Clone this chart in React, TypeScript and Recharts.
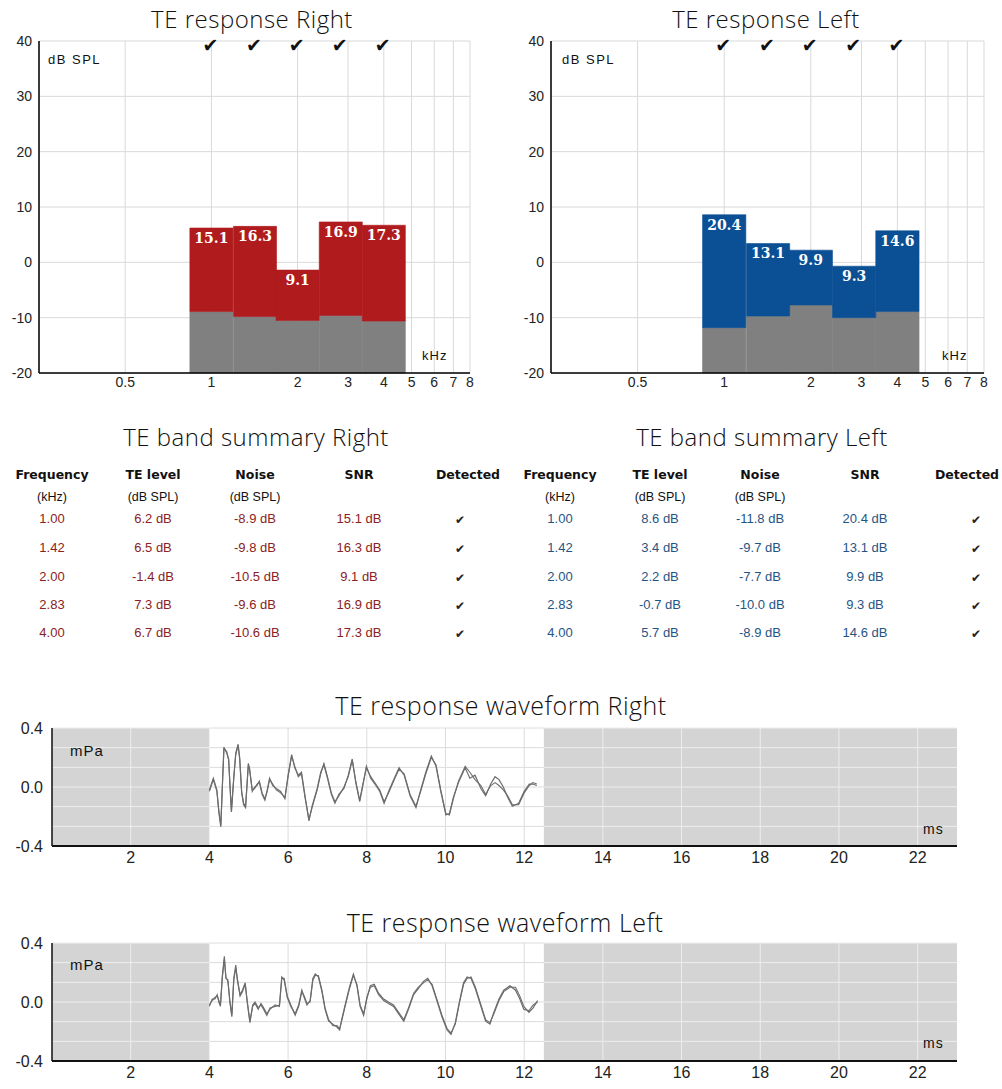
import {
  ComposedChart,
  LineChart,
  Line,
  Scatter,
  XAxis,
  YAxis,
  CartesianGrid,
  ReferenceArea,
  ReferenceLine,
} from "recharts";

// half-octave bands
const BAND_FREQS = [1.0, 1.42, 2.0, 2.83, 4.0];
const BAND_LABELS = ["1.00", "1.42", "2.00", "2.83", "4.00"];

const RIGHT_TE = [6.2, 6.5, -1.4, 7.3, 6.7];
const RIGHT_NOISE = [-8.9, -9.8, -10.5, -9.6, -10.6];
const RIGHT_SNR = [15.1, 16.3, 9.1, 16.9, 17.3];
const RIGHT_DETECTED = [true, true, true, true, true];

const LEFT_TE = [8.6, 3.4, 2.2, -0.7, 5.7];
const LEFT_NOISE = [-11.8, -9.7, -7.7, -10.0, -8.9];
const LEFT_SNR = [20.4, 13.1, 9.9, 9.3, 14.6];
const LEFT_DETECTED = [true, true, true, true, true];

const FREQ_TICKS = [0.5, 1, 2, 3, 4, 5, 6, 7, 8];
const DB_TICKS = [-20, -10, 0, 10, 20, 30, 40];

const MS_TICKS = [2, 4, 6, 8, 10, 12, 14, 16, 18, 20, 22];
const MPA_TICKS = [-0.4, 0, 0.4];
const MPA_GRID = [0.4, 0.267, 0.133, 0, -0.133, -0.267];
const WAVE_WINDOW = [4, 12.5];

const WAVE_RIGHT_T = [
  4.0, 4.1, 4.19, 4.24, 4.29, 4.34, 4.37, 4.44, 4.49, 4.52,
  4.56, 4.62, 4.67, 4.73, 4.77, 4.82, 4.87, 4.92, 4.99, 5.02,
  5.09, 5.15, 5.21, 5.27, 5.34, 5.41, 5.47, 5.53, 5.61, 5.7,
  5.81, 5.92, 6.0, 6.09, 6.17, 6.26, 6.34, 6.43, 6.53, 6.61,
  6.74, 6.83, 6.91, 7.0, 7.1, 7.19, 7.29, 7.42, 7.53, 7.63,
  7.72, 7.82, 7.9, 7.99, 8.1, 8.23, 8.33, 8.44, 8.57, 8.7,
  8.82, 8.95, 9.1, 9.25, 9.37, 9.5, 9.64, 9.76, 9.88, 10.01,
  10.1, 10.2, 10.33, 10.5, 10.62, 10.75, 10.9, 11.02, 11.15, 11.26,
  11.36, 11.47, 11.58, 11.7, 11.86, 12.0, 12.13, 12.22, 12.32,
];
const WAVE_RIGHT_A = [
  -0.02, 0.06, -0.02, -0.17, -0.27, 0.08, 0.27, 0.23, 0.19, 0.02,
  -0.17, 0.06, 0.23, 0.29, 0.19, -0.03, -0.12, -0.14, 0.16, 0.12,
  -0.02, -0.01, 0.02, 0.03, -0.05, -0.09, -0.02, 0.06, 0.01, -0.01,
  -0.03, -0.08, 0.08, 0.22, 0.13, 0.08, 0.1, -0.06, -0.23, -0.13,
  -0.01, 0.1, 0.15, 0.06, -0.05, -0.11, -0.05, -0.01, 0.08, 0.19,
  0.03, -0.1, 0.01, 0.14, 0.06, 0.01, -0.03, -0.11, -0.02, 0.06,
  0.13, 0.08, -0.06, -0.14, -0.02, 0.1, 0.21, 0.14, -0.03, -0.19,
  -0.18, -0.07, 0.03, 0.13, 0.06, 0.08, -0.01, -0.06, 0.02, 0.07,
  0.05, 0.0, -0.07, -0.13, -0.11, -0.03, 0.02, 0.02, 0.01,
];
const WAVE_RIGHT_B = [
  -0.03, 0.05, -0.03, -0.16, -0.26, 0.07, 0.26, 0.24, 0.18, 0.03,
  -0.16, 0.07, 0.22, 0.28, 0.2, -0.04, -0.11, -0.13, 0.15, 0.13,
  -0.03, 0.0, 0.01, 0.04, -0.04, -0.08, -0.03, 0.05, 0.02, -0.02,
  -0.04, -0.07, 0.07, 0.21, 0.14, 0.07, 0.09, -0.07, -0.22, -0.14,
  -0.02, 0.09, 0.16, 0.07, -0.04, -0.1, -0.06, 0.0, 0.07, 0.18,
  0.04, -0.09, 0.02, 0.13, 0.07, 0.02, -0.02, -0.1, -0.03, 0.05,
  0.12, 0.09, -0.05, -0.13, -0.03, 0.09, 0.2, 0.15, -0.02, -0.18,
  -0.19, -0.08, 0.04, 0.14, 0.1, 0.05, 0.01, -0.05, 0.01, 0.03,
  0.01, -0.02, -0.06, -0.12, -0.12, -0.04, 0.01, 0.03, 0.02,
];

const WAVE_LEFT_T = [
  4.0, 4.07, 4.14, 4.2, 4.24, 4.28, 4.33, 4.38, 4.42, 4.47,
  4.52, 4.57, 4.62, 4.67, 4.71, 4.78, 4.84, 4.91, 4.96, 5.03,
  5.1, 5.16, 5.24, 5.31, 5.38, 5.46, 5.54, 5.67, 5.78, 5.84,
  5.9, 5.98, 6.07, 6.18, 6.27, 6.35, 6.41, 6.48, 6.56, 6.63,
  6.69, 6.77, 6.86, 6.94, 7.03, 7.14, 7.24, 7.31, 7.37, 7.45,
  7.56, 7.66, 7.75, 7.83, 7.92, 8.0, 8.09, 8.19, 8.3, 8.43,
  8.55, 8.68, 8.81, 8.94, 9.06, 9.19, 9.31, 9.44, 9.55, 9.66,
  9.78, 9.91, 10.04, 10.14, 10.25, 10.36, 10.46, 10.55, 10.65, 10.76,
  10.89, 11.02, 11.13, 11.23, 11.36, 11.48, 11.64, 11.78, 11.89, 11.99,
  12.12, 12.23, 12.34,
];
const WAVE_LEFT_A = [
  -0.02, 0.01, 0.03, 0.04, 0.01, -0.02, 0.18, 0.31, 0.16, 0.15,
  0.0, -0.1, 0.16, 0.25, 0.15, 0.05, 0.08, 0.13, 0.0, -0.14,
  -0.02, 0.0, -0.04, -0.02, -0.05, -0.09, -0.04, -0.03, -0.02, 0.17,
  0.15, 0.03, -0.03, -0.08, -0.02, 0.08, 0.03, -0.02, 0.01, 0.16,
  0.19, 0.17, 0.07, -0.05, -0.13, -0.15, -0.17, -0.19, -0.11, -0.02,
  0.1, 0.19, 0.11, -0.03, -0.09, 0.03, 0.1, 0.11, 0.05, 0.01,
  -0.01, -0.03, -0.08, -0.13, -0.05, 0.05, 0.09, 0.14, 0.16, 0.11,
  0.01, -0.1, -0.19, -0.22, -0.14, 0.01, 0.13, 0.17, 0.16, 0.09,
  -0.02, -0.13, -0.15, -0.07, 0.02, 0.08, 0.11, 0.08, 0.02, -0.05,
  -0.06, -0.02, 0.0,
];
const WAVE_LEFT_B = [
  -0.03, 0.02, 0.02, 0.05, 0.0, -0.03, 0.17, 0.29, 0.17, 0.14,
  0.01, -0.09, 0.15, 0.23, 0.16, 0.04, 0.07, 0.12, 0.01, -0.13,
  -0.03, -0.01, -0.05, -0.01, -0.04, -0.08, -0.05, -0.02, -0.03, 0.16,
  0.16, 0.04, -0.02, -0.09, -0.03, 0.07, 0.04, -0.01, 0.0, 0.15,
  0.18, 0.18, 0.08, -0.04, -0.12, -0.16, -0.16, -0.18, -0.12, -0.03,
  0.09, 0.18, 0.12, -0.02, -0.08, 0.02, 0.11, 0.12, 0.06, 0.02,
  0.0, -0.02, -0.07, -0.12, -0.04, 0.06, 0.1, 0.13, 0.15, 0.12,
  0.02, -0.09, -0.18, -0.21, -0.15, 0.0, 0.12, 0.16, 0.17, 0.1,
  -0.01, -0.12, -0.14, -0.08, 0.01, 0.07, 0.1, 0.1, 0.04, -0.03,
  -0.07, -0.04, 0.01,
];

const RED = "#b01b1e";
const BLUE = "#0b4f94";
const NOISE_GREY = "#808080";
const MASK_GREY = "#d4d4d4";
const TRACE = "#6c6c6c";
const HALF_BAND = Math.pow(2, 0.25);

const TICK_FONT = "'Liberation Sans', Arial, sans-serif";
const TITLE_FONT = "'Open Sans', 'DejaVu Sans', sans-serif";
const TABLE_FONT = "'DejaVu Sans', Tahoma, sans-serif";

function Txt({ x, y, size = 13, weight = 400, color = "#111", anchor = "middle", family = TICK_FONT, spacing = 0, children }) {
  const lh = Math.round(size * 1.3);
  const style: any = {
    position: "absolute",
    top: y - lh / 2,
    lineHeight: `${lh}px`,
    fontSize: size,
    fontWeight: weight,
    color,
    fontFamily: family,
    letterSpacing: spacing,
    whiteSpace: "nowrap",
  };
  if (anchor === "middle") {
    style.left = x - 200;
    style.width = 400;
    style.textAlign = "center";
  } else {
    style.left = x;
  }
  return <div style={style}>{children}</div>;
}

function CheckMark(props: any) {
  const { cx, cy } = props;
  return (
    <text x={cx - 1} y={cy + 4} textAnchor="middle" dominantBaseline="central" fontSize={19} fill="#111" fontFamily="'DejaVu Sans', sans-serif">
      ✔
    </text>
  );
}

function ResponseChart({ te, noise, snr, detected, color, axisWidth, rightMargin }) {
  const checks = BAND_FREQS.filter((_, i) => detected[i]).map((f) => ({ f, y: 40 }));
  return (
    <ComposedChart width={490} height={400} margin={{ top: 41, right: rightMargin, bottom: 7, left: 0 }}>
      <CartesianGrid stroke="#d9d9d9" strokeWidth={1} />
      <XAxis
        type="number"
        dataKey="f"
        scale="log"
        domain={[0.25, 8]}
        ticks={FREQ_TICKS}
        interval={0}
        allowDataOverflow
        height={20}
        tickLine={false}
        tickSize={0}
        tickMargin={4}
        axisLine={{ stroke: "#000", strokeWidth: 1.5 }}
        tick={{ fill: "#222", fontSize: 14, fontFamily: TICK_FONT }}
        tickFormatter={(v) => String(v)}
      />
      <YAxis
        type="number"
        dataKey="y"
        domain={[-20, 40]}
        ticks={DB_TICKS}
        interval={0}
        width={axisWidth}
        tickLine={false}
        tickSize={0}
        tickMargin={7}
        axisLine={{ stroke: "#000", strokeWidth: 1.5 }}
        tick={{ fill: "#222", fontSize: 14, fontFamily: TICK_FONT }}
      />
      {BAND_FREQS.map((f, i) => (
        <ReferenceArea
          key={`n${i}`}
          x1={f / HALF_BAND}
          x2={f * HALF_BAND}
          y1={-20}
          y2={noise[i]}
          fill={NOISE_GREY}
          fillOpacity={1}
          stroke={NOISE_GREY}
          strokeWidth={0.6}
        />
      ))}
      {BAND_FREQS.map((f, i) => (
        <ReferenceArea
          key={`t${i}`}
          x1={f / HALF_BAND}
          x2={f * HALF_BAND}
          y1={noise[i]}
          y2={te[i]}
          fill={color}
          fillOpacity={1}
          stroke={color}
          strokeWidth={0.6}
          label={{
            value: snr[i].toFixed(1),
            position: "insideTop",
            offset: 5,
            fill: "#fff",
            fontSize: 14,
            fontWeight: "bold",
            fontFamily: "'DejaVu Serif', 'Liberation Serif', serif",
          }}
        />
      ))}
      <Scatter data={checks} isAnimationActive={false} shape={CheckMark} />
    </ComposedChart>
  );
}

function Waveform({ t, a, b, height, marginTop, marginBottom }) {
  const data = t.map((v, i) => ({ t: v, a: a[i], b: b[i] }));
  const inWindow = (x) => x > WAVE_WINDOW[0] && x < WAVE_WINDOW[1];
  return (
    <LineChart width={1002} height={height} data={data} margin={{ top: marginTop, right: 45, bottom: marginBottom, left: 0 }}>
      <ReferenceArea x1={0} x2={WAVE_WINDOW[0]} y1={-0.4} y2={0.4} fill={MASK_GREY} fillOpacity={1} stroke="none" />
      <ReferenceArea x1={WAVE_WINDOW[1]} x2={23} y1={-0.4} y2={0.4} fill={MASK_GREY} fillOpacity={1} stroke="none" />
      {MPA_GRID.map((y) => (
        <ReferenceLine key={`h1${y}`} segment={[{ x: 0, y }, { x: WAVE_WINDOW[0], y }]} stroke="#ededed" strokeWidth={1} />
      ))}
      {MPA_GRID.map((y) => (
        <ReferenceLine key={`h2${y}`} segment={[{ x: WAVE_WINDOW[0], y }, { x: WAVE_WINDOW[1], y }]} stroke="#dcdcdc" strokeWidth={1} />
      ))}
      {MPA_GRID.map((y) => (
        <ReferenceLine key={`h3${y}`} segment={[{ x: WAVE_WINDOW[1], y }, { x: 23, y }]} stroke="#ededed" strokeWidth={1} />
      ))}
      {MS_TICKS.map((x) => (
        <ReferenceLine key={`v${x}`} x={x} stroke={inWindow(x) ? "#dcdcdc" : "#ededed"} strokeWidth={1} />
      ))}
      <XAxis
        type="number"
        dataKey="t"
        domain={[0, 23]}
        ticks={MS_TICKS}
        interval={0}
        allowDataOverflow
        height={25}
        tickLine={false}
        tickSize={0}
        tickMargin={6}
        axisLine={{ stroke: "#111", strokeWidth: 2 }}
        tick={{ fill: "#222", fontSize: 16, fontFamily: TICK_FONT }}
      />
      <YAxis
        type="number"
        domain={[-0.4, 0.4]}
        ticks={MPA_TICKS}
        interval={0}
        width={52}
        allowDataOverflow
        tickLine={false}
        tickSize={0}
        tickMargin={9}
        axisLine={{ stroke: "#111", strokeWidth: 1.5 }}
        tick={{ fill: "#222", fontSize: 16, fontFamily: TICK_FONT }}
        tickFormatter={(v) => v.toFixed(1)}
      />
      <Line dataKey="b" type="linear" stroke={TRACE} strokeWidth={1.1} dot={false} isAnimationActive={false} />
      <Line dataKey="a" type="linear" stroke={TRACE} strokeWidth={1.2} dot={false} isAnimationActive={false} />
    </LineChart>
  );
}

const TABLE_ROW_Y = [518, 547, 576, 604, 632];

function SummaryTable({ cols, checkX, te, noise, snr, detected, color }) {
  const dB = (v) => `${v.toFixed(1)} dB`;
  return (
    <>
      <Txt x={cols[0]} y={475} size={12.5} weight={700} family={TABLE_FONT}>Frequency</Txt>
      <Txt x={cols[1]} y={475} size={12.5} weight={700} family={TABLE_FONT}>TE level</Txt>
      <Txt x={cols[2]} y={475} size={12.5} weight={700} family={TABLE_FONT}>Noise</Txt>
      <Txt x={cols[3]} y={475} size={12.5} weight={700} family={TABLE_FONT}>SNR</Txt>
      <Txt x={cols[4]} y={475} size={12.5} weight={700} family={TABLE_FONT}>Detected</Txt>
      <Txt x={cols[0]} y={497} size={12.5}>(kHz)</Txt>
      <Txt x={cols[1]} y={497} size={12.5}>(dB SPL)</Txt>
      <Txt x={cols[2]} y={497} size={12.5}>(dB SPL)</Txt>
      {BAND_LABELS.map((f, i) => (
        <div key={f}>
          <Txt x={cols[0]} y={TABLE_ROW_Y[i]} size={13} color={color}>{f}</Txt>
          <Txt x={cols[1]} y={TABLE_ROW_Y[i]} size={13} color={color}>{dB(te[i])}</Txt>
          <Txt x={cols[2]} y={TABLE_ROW_Y[i]} size={13} color={color}>{dB(noise[i])}</Txt>
          <Txt x={cols[3]} y={TABLE_ROW_Y[i]} size={13} color={color}>{dB(snr[i])}</Txt>
          <Txt x={checkX} y={TABLE_ROW_Y[i] + 2} size={12} color="#222" family="'DejaVu Sans', sans-serif">
            {detected[i] ? "✔" : ""}
          </Txt>
        </div>
      ))}
    </>
  );
}

export default function App() {
  return (
    <div style={{ position: "absolute", left: 0, top: 0, width: 1002, height: 1089, background: "#fff", overflow: "hidden" }}>
      {/* TE response charts */}
      <div style={{ position: "absolute", left: 0, top: 0 }}>
        <ResponseChart te={RIGHT_TE} noise={RIGHT_NOISE} snr={RIGHT_SNR} detected={RIGHT_DETECTED} color={RED} axisWidth={39} rightMargin={20} />
      </div>
      <div style={{ position: "absolute", left: 500, top: 0 }}>
        <ResponseChart te={LEFT_TE} noise={LEFT_NOISE} snr={LEFT_SNR} detected={LEFT_DETECTED} color={BLUE} axisWidth={51} rightMargin={6} />
      </div>
      <Txt x={252} y={18} size={24} weight={300} spacing={0.5} family={TITLE_FONT}>TE response Right</Txt>
      <Txt x={766} y={18} size={24} weight={300} spacing={0.5} family={TITLE_FONT}>TE response Left</Txt>
      <Txt x={48} y={59} size={13} anchor="start" spacing={1.5}>dB SPL</Txt>
      <Txt x={562} y={59} size={13} anchor="start" spacing={1.5}>dB SPL</Txt>
      <Txt x={422} y={355} size={13} anchor="start" spacing={1}>kHz</Txt>
      <Txt x={942} y={355} size={13} anchor="start" spacing={1}>kHz</Txt>

      {/* band summary tables */}
      <Txt x={256} y={436} size={24} weight={300} spacing={0.5} family={TITLE_FONT}>TE band summary Right</Txt>
      <Txt x={762} y={436} size={24} weight={300} spacing={0.5} family={TITLE_FONT}>TE band summary Left</Txt>
      <SummaryTable cols={[52, 153, 255, 359, 468]} checkX={460} te={RIGHT_TE} noise={RIGHT_NOISE} snr={RIGHT_SNR} detected={RIGHT_DETECTED} color="#8a2222" />
      <SummaryTable cols={[560, 660, 760, 865, 967]} checkX={976} te={LEFT_TE} noise={LEFT_NOISE} snr={LEFT_SNR} detected={LEFT_DETECTED} color="#1f5585" />

      {/* waveforms */}
      <Txt x={501} y={705} size={25} weight={300} spacing={0.5} family={TITLE_FONT}>TE response waveform Right</Txt>
      <div style={{ position: "absolute", left: 0, top: 690 }}>
        <Waveform t={WAVE_RIGHT_T} a={WAVE_RIGHT_A} b={WAVE_RIGHT_B} height={190} marginTop={38} marginBottom={9} />
      </div>
      <Txt x={70} y={751} size={15} anchor="start" spacing={1}>mPa</Txt>
      <Txt x={923} y={829} size={14} anchor="start" spacing={1}>ms</Txt>

      <Txt x={505} y={922} size={25} weight={300} spacing={0.5} family={TITLE_FONT}>TE response waveform Left</Txt>
      <div style={{ position: "absolute", left: 0, top: 900 }}>
        <Waveform t={WAVE_LEFT_T} a={WAVE_LEFT_A} b={WAVE_LEFT_B} height={189} marginTop={43} marginBottom={3} />
      </div>
      <Txt x={70} y={965} size={15} anchor="start" spacing={1}>mPa</Txt>
      <Txt x={923} y={1043} size={14} anchor="start" spacing={1}>ms</Txt>
    </div>
  );
}
